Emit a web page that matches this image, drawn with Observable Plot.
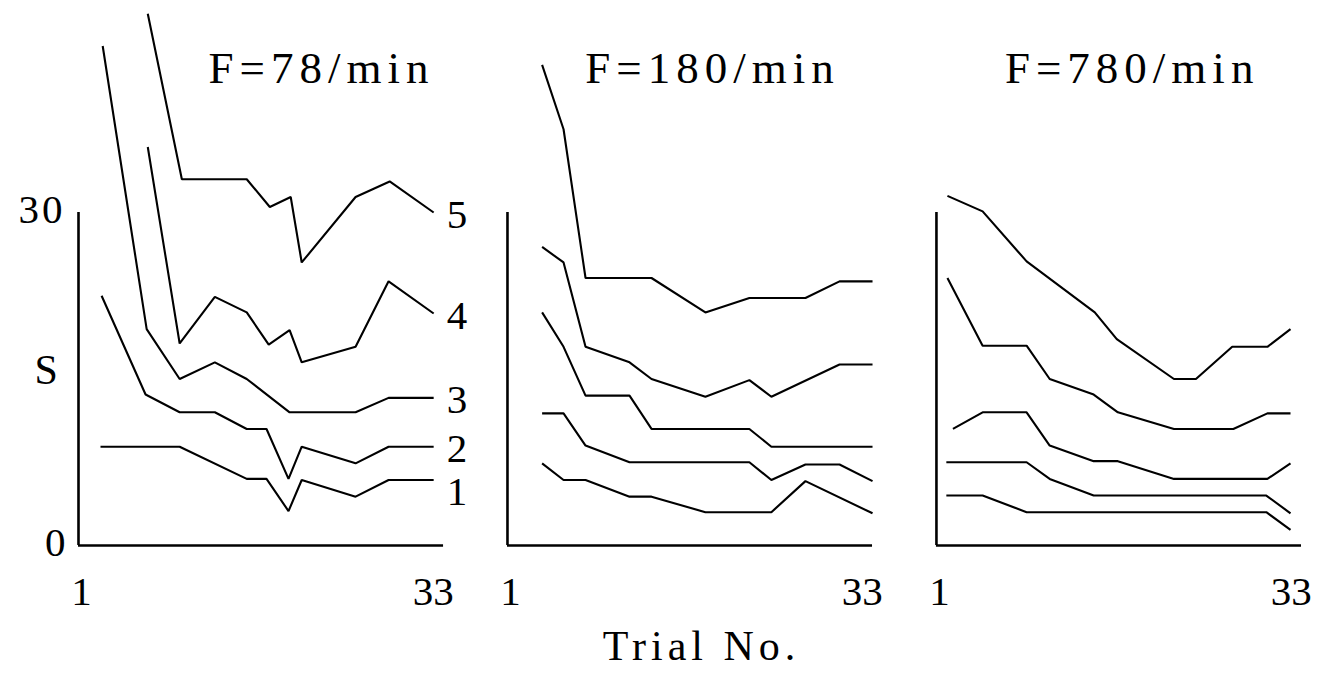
<!DOCTYPE html>
<html>
<head>
<meta charset="utf-8">
<script src="https://cdn.jsdelivr.net/npm/d3@7"></script>
<script src="https://cdn.jsdelivr.net/npm/@observablehq/plot@0.6"></script>
<style>
  html, body { margin: 0; padding: 0; background: #fff; }
  #chart svg { display: block; }
</style>
</head>
<body>
<div id="chart"></div>
<script>
// Panels (stimulus frequency) and series labels
const panels = ["F=78/min", "F=180/min", "F=780/min"];
const seriesNames = ["1", "2", "3", "4", "5"];
const xTicks = [1, 33];
const yTicks = [0, 30];

// F=78/min : [trial, S]
const f78_s1 = [[2.0,8.9],[9.2,8.9],[15.3,6.0],[17.1,6.0],[19.1,3.1],[20.3,5.9],[25.2,4.4],[28.2,5.9],[32.3,5.9]];
const f78_s2 = [[2.1,22.5],[6.1,13.6],[9.2,12.0],[12.4,12.0],[15.3,10.5],[17.1,10.5],[19.1,6.0],[20.3,8.9],[25.2,7.4],[28.2,8.9],[32.3,8.9]];
const f78_s3 = [[2.2,45.0],[6.2,19.5],[9.2,15.0],[12.4,16.5],[15.3,15.0],[19.2,12.0],[25.2,12.0],[28.2,13.3],[32.3,13.3]];
const f78_s4 = [[6.3,35.9],[9.2,18.2],[12.4,22.4],[15.3,21.0],[17.3,18.1],[19.2,19.4],[20.3,16.5],[25.2,17.9],[28.2,23.8],[32.3,20.9]];
const f78_s5 = [[6.3,47.9],[9.4,33.0],[15.3,33.0],[17.4,30.5],[19.3,31.4],[20.3,25.5],[25.2,31.4],[28.3,32.8],[32.3,30.0]];

// F=180/min : [trial, S]
const f180_s1 = [[3.15,7.4],[5.1,5.9],[7.1,5.9],[11.1,4.4],[13.1,4.4],[18.0,3.0],[24.0,3.0],[27.1,5.8],[33.2,2.9]];
const f180_s2 = [[3.15,11.9],[5.1,11.9],[7.1,9.0],[11.1,7.5],[22.0,7.5],[24.0,5.9],[27.1,7.3],[30.2,7.3],[33.2,5.8]];
const f180_s3 = [[3.15,21.0],[5.1,17.9],[7.1,13.5],[11.1,13.5],[13.1,10.5],[22.0,10.5],[24.0,8.9],[33.2,8.9]];
const f180_s4 = [[3.15,26.9],[5.1,25.5],[7.1,17.9],[11.1,16.5],[13.1,15.0],[18.0,13.4],[22.0,14.9],[24.0,13.4],[30.2,16.3],[33.2,16.3]];
const f180_s5 = [[3.15,43.3],[5.1,37.5],[7.1,24.1],[13.1,24.1],[18.0,21.0],[22.0,22.3],[27.1,22.3],[30.2,23.8],[33.2,23.8]];

// F=780/min : [trial, S]
const f780_s1 = [[0.9,4.5],[4.2,4.5],[8.2,3.0],[30.0,3.0],[32.2,1.4]];
const f780_s2 = [[0.9,7.5],[8.2,7.5],[10.3,6.0],[14.3,4.5],[30.0,4.5],[32.2,2.9]];
const f780_s3 = [[1.5,10.5],[4.2,12.0],[8.2,12.0],[10.3,9.0],[14.3,7.6],[16.5,7.6],[21.6,6.0],[30.1,6.0],[32.2,7.4]];
const f780_s4 = [[1.0,24.1],[4.2,18.0],[8.2,18.0],[10.3,15.0],[14.3,13.6],[16.5,12.0],[21.6,10.5],[27.0,10.5],[30.1,11.9],[32.2,11.9]];
const f780_s5 = [[1.0,31.5],[4.2,30.1],[8.2,25.6],[14.4,21.0],[16.4,18.6],[21.6,15.0],[23.6,15.0],[26.9,17.9],[30.1,17.9],[32.2,19.5]];

const panelSeries = [
  [f78_s1, f78_s2, f78_s3, f78_s4, f78_s5],
  [f180_s1, f180_s2, f180_s3, f180_s4, f180_s5],
  [f780_s1, f780_s2, f780_s3, f780_s4, f780_s5]
];

// Flat table for Plot
const rows = [];
panelSeries.forEach((list, pi) => {
  list.forEach((pts, si) => {
    pts.forEach(([trial, S]) => rows.push({panel: panels[pi], series: seriesNames[si], key: pi + "-" + si, trial, S}));
  });
});
const endLabels = panelSeries[0].map((pts, si) => {
  const [trial, S] = pts[pts.length - 1];
  return {panel: panels[0], series: seriesNames[si], trial, S};
});

const serif = "'Liberation Serif', 'DejaVu Serif', serif";
const titleX = {"F=78/min": 22.1, "F=180/min": 18.65, "F=780/min": 17.8};

const chart = Plot.plot({
  width: 1317,
  height: 676,
  marginLeft: 78,
  marginRight: 16,
  marginTop: 0,
  marginBottom: 131,
  style: {fontFamily: serif, fontSize: "41px", color: "black", background: "white", overflow: "visible"},
  fx: {domain: panels, paddingInner: 0.149, paddingOuter: 0, round: false, axis: null, label: null},
  x: {domain: [0, 33.2], label: null},
  y: {domain: [0, 49.1], label: null},
  marks: [
    Plot.ruleY([0], {strokeWidth: 2.6, stroke: "black"}),
    Plot.ruleX([0], {y1: 0, y2: 30, strokeWidth: 2.6, stroke: "black"}),
    Plot.line(rows, {x: "trial", y: "S", z: "key", fx: "panel", stroke: "black", strokeWidth: 2.1, strokeLinejoin: "miter", strokeLinecap: "butt"}),
    Plot.axisX({ticks: xTicks, tickSize: 0, tickPadding: 30, dx: -8, label: null, fontSize: 41, fontFamily: serif, tickFormat: d => String(d)}),
    Plot.axisY({ticks: yTicks, tickSize: 0, tickPadding: 13, dy: -3, label: null, facetAnchor: "left", fontSize: 41, fontFamily: serif, tickFormat: d => String(d)}),
    Plot.text(endLabels.filter(d => d.series !== "1"), {x: "trial", y: "S", fx: "panel", text: "series", dx: 13, dy: 2, textAnchor: "start", fontSize: 41, fontFamily: serif}),
    Plot.text(endLabels.filter(d => d.series === "1"), {x: "trial", y: "S", fx: "panel", text: "series", dx: 13, dy: 12, textAnchor: "start", fontSize: 41, fontFamily: serif}),
    Plot.text(panels, {fx: d => d, x: d => titleX[d], y: () => 43, text: d => d, fontSize: 45, fontFamily: serif}),
    Plot.text([panels[0]], {fx: d => d, frameAnchor: "left", y: () => 15.8, dx: -44, text: () => "S", fontSize: 42, fontFamily: serif}),
    Plot.text([panels[1]], {fx: d => d, x: () => 17.65, y: () => -9.1, text: () => "Trial No.", fontSize: 42, fontFamily: serif})
  ]
});

// letter spacing to mimic the wide typeset look of the original
chart.querySelectorAll("text").forEach(t => {
  const s = t.textContent;
  if (panels.includes(s)) t.setAttribute("letter-spacing", "6px");
  else if (s === "Trial No.") t.setAttribute("letter-spacing", "5px");
  else if (s === "30") t.setAttribute("letter-spacing", "3px");
});
document.getElementById("chart").appendChild(chart);
</script>
</body>
</html>
